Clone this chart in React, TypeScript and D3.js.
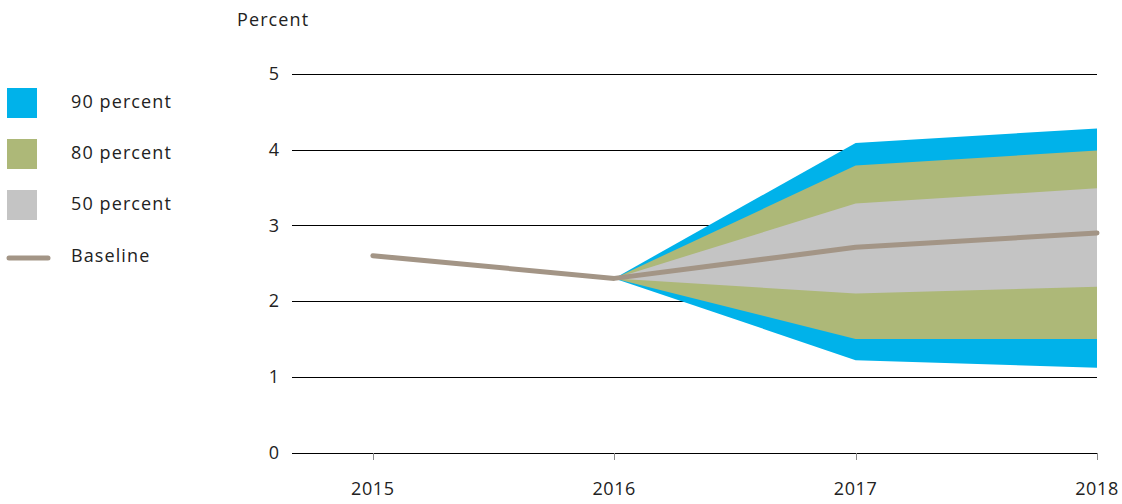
import React from "react";
import * as d3 from "d3";

const years = [2015, 2016, 2017, 2018];
const baseline = [2.6, 2.3, 2.71, 2.9];
const fanYears = [2016, 2017, 2018];
const p90Upper = [2.3, 4.09, 4.28];
const p90Lower = [2.3, 1.22, 1.12];
const p80Upper = [2.3, 3.79, 3.99];
const p80Lower = [2.3, 1.5, 1.5];
const p50Upper = [2.3, 3.29, 3.49];
const p50Lower = [2.3, 2.1, 2.19];
const yTicks = [0, 1, 2, 3, 4, 5];
const legendItems = ["90 percent", "80 percent", "50 percent", "Baseline"];

const COLORS = { p90: "#00b2ea", p80: "#adb878", p50: "#c4c4c4", base: "#a39586" };
const FONT = "'Open Sans', 'Noto Sans', sans-serif";

export default function App() {
  const W = 1122, H = 504;
  const x = d3.scaleLinear().domain([2014.665, 2018]).range([292, 1097]);
  const y = d3.scaleLinear().domain([0, 5]).range([452.5, 74]);

  const band = (up: number[], lo: number[]) =>
    d3
      .area<number>()
      .x((_, i) => x(fanYears[i]))
      .y0((_, i) => y(lo[i]))
      .y1((_, i) => y(up[i]))(fanYears.map((_, i) => i)) || "";

  const line = d3
    .line<number>()
    .x((_, i) => x(years[i]))
    .y((d) => y(d))(baseline) || "";

  const legendColors = [COLORS.p90, COLORS.p80, COLORS.p50];
  const ls = 1.1;
  const fs = 18;

  return (
    <svg width={W} height={H} style={{ position: "absolute", left: 0, top: 0 }} fontFamily={FONT}>
      <rect width={W} height={H} fill="#fff" />
      {yTicks.map((t) => (
        <g key={t}>
          <line x1={292} x2={1097} y1={Math.round(y(t)) + 0.5} y2={Math.round(y(t)) + 0.5} stroke="#000" strokeWidth={1} />
          <text x={279} y={y(t)} dy="0.35em" textAnchor="end" fontSize={fs} fill="#222">
            {t}
          </text>
        </g>
      ))}
      {years.map((yr) => (
        <g key={yr}>
          <line x1={Math.round(x(yr)) + 0.5} x2={Math.round(x(yr)) + 0.5} y1={453} y2={460} stroke="#888" strokeWidth={1} />
          <text x={x(yr)} y={489} dy="0.35em" textAnchor="middle" fontSize={fs} fill="#222" letterSpacing={0.6}>
            {yr}
          </text>
        </g>
      ))}
      <path d={band(p90Upper, p90Lower)} fill={COLORS.p90} />
      <path d={band(p80Upper, p80Lower)} fill={COLORS.p80} />
      <path d={band(p50Upper, p50Lower)} fill={COLORS.p50} />
      <path d={line} fill="none" stroke={COLORS.base} strokeWidth={5} strokeLinecap="round" strokeLinejoin="round" />
      <text x={237} y={20} dy="0.35em" fontSize={fs} fill="#222" letterSpacing={ls}>
        Percent
      </text>
      {legendItems.map((name, i) => {
        const cy = 103 + i * 51;
        return (
          <g key={name}>
            {i < 3 ? (
              <rect x={7} y={cy - 15} width={30} height={30} fill={legendColors[i]} />
            ) : (
              <line x1={9} x2={48} y1={258} y2={258} stroke={COLORS.base} strokeWidth={5} strokeLinecap="round" />
            )}
            <text x={71} y={i < 3 ? cy - 1 : 256} dy="0.35em" fontSize={fs} fill="#222" letterSpacing={ls}>
              {name}
            </text>
          </g>
        );
      })}
    </svg>
  );
}
